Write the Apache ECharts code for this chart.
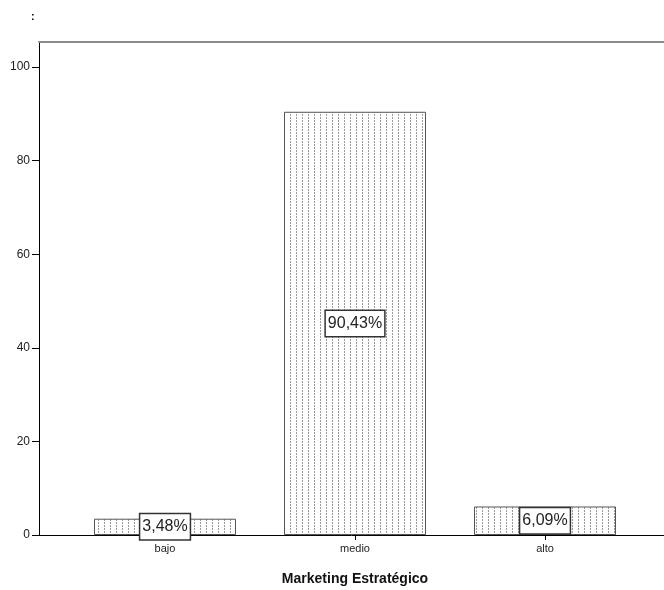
<!DOCTYPE html>
<html>
<head>
<meta charset="utf-8">
<script src="https://cdn.jsdelivr.net/npm/echarts@6/dist/echarts.min.js"></script>
<style>
  html, body { margin: 0; padding: 0; background: #fff; }
  #chart { width: 664px; height: 590px; }
</style>
</head>
<body>
<div id="chart"></div>
<script>
// Frequency distribution of "Marketing Estratégico" levels (percent)
const categories = ['bajo', 'medio', 'alto'];
const percentValues = [3.48, 90.43, 6.09];
const yTickValues = [0, 20, 40, 60, 80, 100];
const axisTitle = 'Marketing Estratégico';

// Dotted fill pattern for the bars
function makeDotPattern() {
  const c = document.createElement('canvas');
  c.width = 6; c.height = 3;
  const ctx = c.getContext('2d');
  ctx.fillStyle = '#fff';
  ctx.fillRect(0, 0, 6, 3);
  ctx.fillStyle = '#9a9a9a';
  ctx.fillRect(2, 0, 1, 2);
  return c;
}

const Y_MAX = 105.34;
const FONT = '"Liberation Sans", Arial, sans-serif';

const chart = echarts.init(document.getElementById('chart'), null, { renderer: 'canvas' });

chart.setOption({
  animation: false,
  backgroundColor: '#fff',
  graphic: [{
    type: 'text', left: 31, top: 11,
    style: { text: ':', font: 'bold 11px ' + FONT, fill: '#000' }
  }],
  grid: [
    { left: 39, right: 0, top: 42, bottom: 55, outerBoundsMode: 'none', containLabel: false },
    { left: 70, right: 24, top: 42, bottom: 55, outerBoundsMode: 'none', containLabel: false }
  ],
  xAxis: [
    { // frame: bottom axis line
      type: 'value', gridIndex: 0, min: 0, max: 1, position: 'bottom',
      axisLine: { show: true, lineStyle: { color: '#000', width: 1 } },
      axisTick: { show: false }, axisLabel: { show: false }, splitLine: { show: false }
    },
    { // frame: top line
      type: 'value', gridIndex: 0, min: 0, max: 1, position: 'top',
      axisLine: { show: true, lineStyle: { color: '#8a8a8a', width: 2 } },
      axisTick: { show: false }, axisLabel: { show: false }, splitLine: { show: false }
    },
    { // category axis carrying the bars
      type: 'category', gridIndex: 1, data: categories, position: 'bottom',
      axisLine: { show: false },
      axisTick: { show: true, alignWithLabel: true, length: 5, lineStyle: { color: '#000' } },
      axisLabel: { fontSize: 11, color: '#222', fontFamily: FONT, margin: 8 },
      name: axisTitle, nameLocation: 'middle', nameGap: 37,
      nameTextStyle: { fontSize: 14, fontWeight: 'bold', color: '#111', fontFamily: FONT }
    }
  ],
  yAxis: [
    {
      type: 'value', gridIndex: 0, min: 0, max: Y_MAX,
      axisLine: { show: true, lineStyle: { color: '#000', width: 1 } },
      axisTick: { show: true, length: 7, customValues: yTickValues, lineStyle: { color: '#000' } },
      axisLabel: { customValues: yTickValues, fontSize: 12, color: '#222', fontFamily: FONT, margin: 9 },
      splitLine: { show: false }
    },
    {
      type: 'value', gridIndex: 1, min: 0, max: Y_MAX, show: false,
      splitLine: { show: false }
    }
  ],
  series: [{
    type: 'bar',
    xAxisIndex: 2, yAxisIndex: 1,
    data: percentValues,
    barWidth: 142,
    itemStyle: {
      color: { image: makeDotPattern(), repeat: 'repeat' },
      borderColor: '#555', borderWidth: 1
    },
    label: {
      show: true, position: 'inside',
      formatter: p => p.value.toFixed(2).replace('.', ',') + '%',
      fontSize: 16, color: '#222', fontFamily: FONT,
      backgroundColor: '#fff', borderColor: '#333', borderWidth: 1.5,
      padding: [5, 2, 4, 2]
    }
  }]
});
</script>
</body>
</html>
